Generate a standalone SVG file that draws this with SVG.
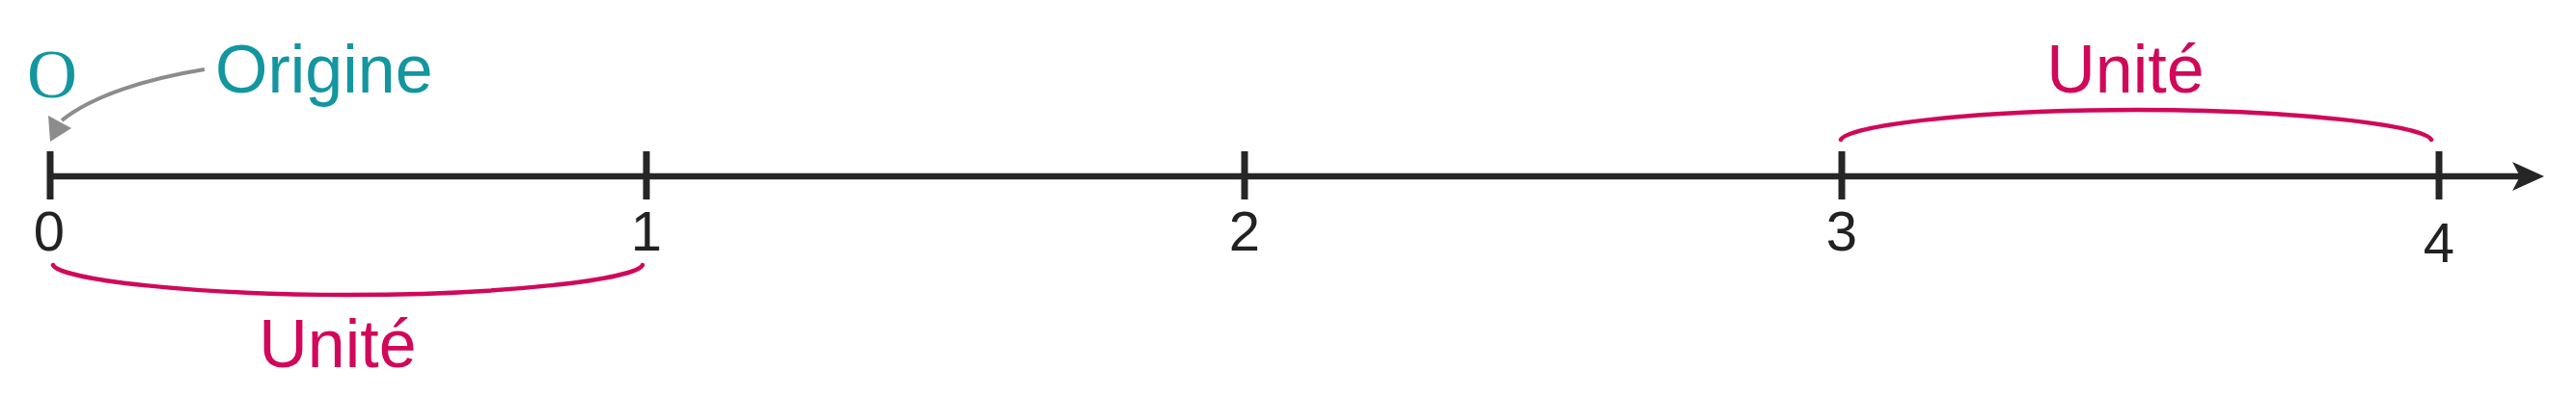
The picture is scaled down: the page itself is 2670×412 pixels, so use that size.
<svg xmlns="http://www.w3.org/2000/svg" width="2670" height="412" viewBox="0 0 2670 412">
<style>
.axis{stroke:#262626;stroke-width:6.5;fill:none}
.tick{stroke:#262626;stroke-width:7;fill:none}
.num{font-family:"Liberation Sans",Arial,sans-serif;font-size:58px;fill:#222;text-anchor:middle}
.unit{font-family:"Liberation Sans",Arial,sans-serif;font-size:70px;fill:#d1085a;text-anchor:middle}
.brace{stroke:#d1085a;stroke-width:4.5;fill:none;stroke-linecap:round}
.teal{fill:#1396a0}
.pointer{stroke:#8c8c8c;stroke-width:4;fill:none}
</style>
<rect width="2670" height="412" fill="#ffffff"/>
<g id="axis">
<line class="axis" x1="52" y1="183" x2="2614" y2="183"/>
<polygon points="2637,183 2604,168 2612,183 2604,198" fill="#262626"/>
</g>
<g id="tick0"><line class="tick" x1="52" y1="157" x2="52" y2="207"/><text class="num" x="51" y="260">0</text></g>
<g id="tick1"><line class="tick" x1="670" y1="157" x2="670" y2="207"/><text class="num" x="670" y="260">1</text></g>
<g id="tick2"><line class="tick" x1="1290" y1="157" x2="1290" y2="207"/><text class="num" x="1290" y="260">2</text></g>
<g id="tick3"><line class="tick" x1="1909" y1="157" x2="1909" y2="207"/><text class="num" x="1909" y="260">3</text></g>
<g id="tick4"><line class="tick" x1="2528" y1="157" x2="2528" y2="207"/><text class="num" x="2528" y="272">4</text></g>
<g id="origin-label">
<text x="54" y="101" font-family="'Liberation Serif','Times New Roman',serif" font-size="72" class="teal" text-anchor="middle">O</text>
<text x="223" y="96" font-family="'Liberation Sans',Arial,sans-serif" font-size="70" class="teal">Origine</text>
</g>
<g id="connectors">
<path class="pointer" d="M212,72 C150,82 95,100 64,125"/>
<polygon points="50,120 74,133 52,147" fill="#8c8c8c"/>
</g>
<g id="unit-bottom">
<path class="brace" d="M55,275 C62,290 200,306 361,306 C522,306 659,290 666,275"/>
<text class="unit" x="350" y="381">Unité</text>
</g>
<g id="unit-top">
<path class="brace" d="M1908,145 C1915,130 2050,114 2214,114 C2378,114 2513,130 2520,145"/>
<text class="unit" x="2203" y="96">Unité</text>
</g>
</svg>
